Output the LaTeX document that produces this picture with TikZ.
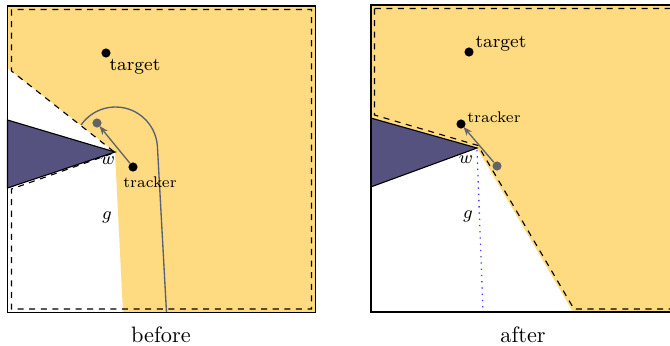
\documentclass[tikz,border=0pt]{standalone}
\usetikzlibrary{arrows.meta}
\definecolor{vis}{RGB}{254,218,128}
\definecolor{obst}{RGB}{86,82,128}
\definecolor{pathc}{RGB}{88,96,118}
\definecolor{ghost}{RGB}{100,100,100}
\tikzset{
  frame/.style={draw=black, line width=0.8pt},
  obstacle/.style={fill=obst, draw=black, line width=0.5pt},
  boundary/.style={draw=black, line width=0.5pt, dash pattern=on 2.7pt off 2.5pt},
  dot/.style={circle, fill=black, inner sep=0pt, minimum size=4.1pt},
  ghostdot/.style={circle, fill=ghost, inner sep=0pt, minimum size=4.1pt},
  move/.style={draw=ghost, line width=0.6pt, -{Stealth[length=4pt,width=3pt]}, shorten >=-0.5pt},
  pathline/.style={draw=pathc, line width=0.6pt},
  sight/.style={draw=blue!75, line width=0.6pt, dash pattern=on 0.6pt off 2.2pt},
  lbltarget/.style={inner sep=0pt, font=\fontsize{8.2}{9}\selectfont},
  lbltracker/.style={inner sep=0pt, font=\fontsize{6.9}{8}\selectfont},
  lblmath/.style={inner sep=0pt, font=\fontsize{8}{9}\selectfont},
  caption/.style={inner sep=0pt, font=\fontsize{10}{12}\selectfont},
}
\begin{document}
\begin{tikzpicture}[x=0.4484pt, y=-0.4484pt]
\useasboundingbox (0,0) rectangle (670,345);
\clip (0,0) rectangle (670,345);
% ---------- before ----------
\fill[vis] (7.5,6) -- (7.5,68) -- (115,152) -- (123,312.5) -- (315.5,312.5) -- (315.5,6) -- cycle;
\filldraw[obstacle] (7.5,120) -- (115,152) -- (7.5,188) -- cycle;
\draw[boundary] (11.5,9.5) -- (11.5,71) -- (115,152.5) -- (11.5,189) -- (11.5,309) -- (311.5,309) -- (311.5,9.5) -- cycle;
\draw[pathline] (81.1,124.9) arc[start angle=145, end angle=3.5, radius=18.83pt] -- (166.5,312.5);
\draw[frame] (7.5,6) rectangle (315.5,312.5);
\node[dot] (tgtL) at (106,53) {};
\node[lbltarget] (tgtLl) at (135,67) {target};
\node[dot] (trkL) at (133,167) {};
\node[lbltracker] (trkLl) at (150,182) {tracker};
\node[ghostdot] (ghL) at (97,123) {};
\draw[move] (trkL) -- (ghL);
\node[lblmath] (wL) at (108,161) {$w$};
\node[lblmath] (gL) at (107,217) {$g$};
\node[caption] (capL) at (161,335) {before};
% ---------- after ----------
\fill[vis] (370.7,5) -- (370.7,118) -- (477,148) -- (573,312) -- (680,312) -- (680,5) -- cycle;
\filldraw[obstacle] (370.7,118) -- (477,148) -- (370.7,187) -- cycle;
\draw[boundary] (374.5,8.5) -- (374.5,115) -- (478,145.5) -- (574,309) -- (676,309) -- (676,8.5) -- cycle;
\draw[sight] (477,150) -- (483,312);
\draw[frame] (370.7,5) rectangle (679,312);
\node[dot] (tgtR) at (469,52) {};
\node[lbltarget] (tgtRl) at (501,44) {target};
\node[dot] (trkR) at (461,124) {};
\node[lbltracker] (trkRl) at (494,117) {tracker};
\node[ghostdot] (ghR) at (497,166) {};
\draw[move] (ghR) -- (trkR);
\node[lblmath] (wR) at (466,160) {$w$};
\node[lblmath] (gR) at (468,216) {$g$};
\node[caption] (capR) at (523,335) {after};
\end{tikzpicture}
\end{document}
